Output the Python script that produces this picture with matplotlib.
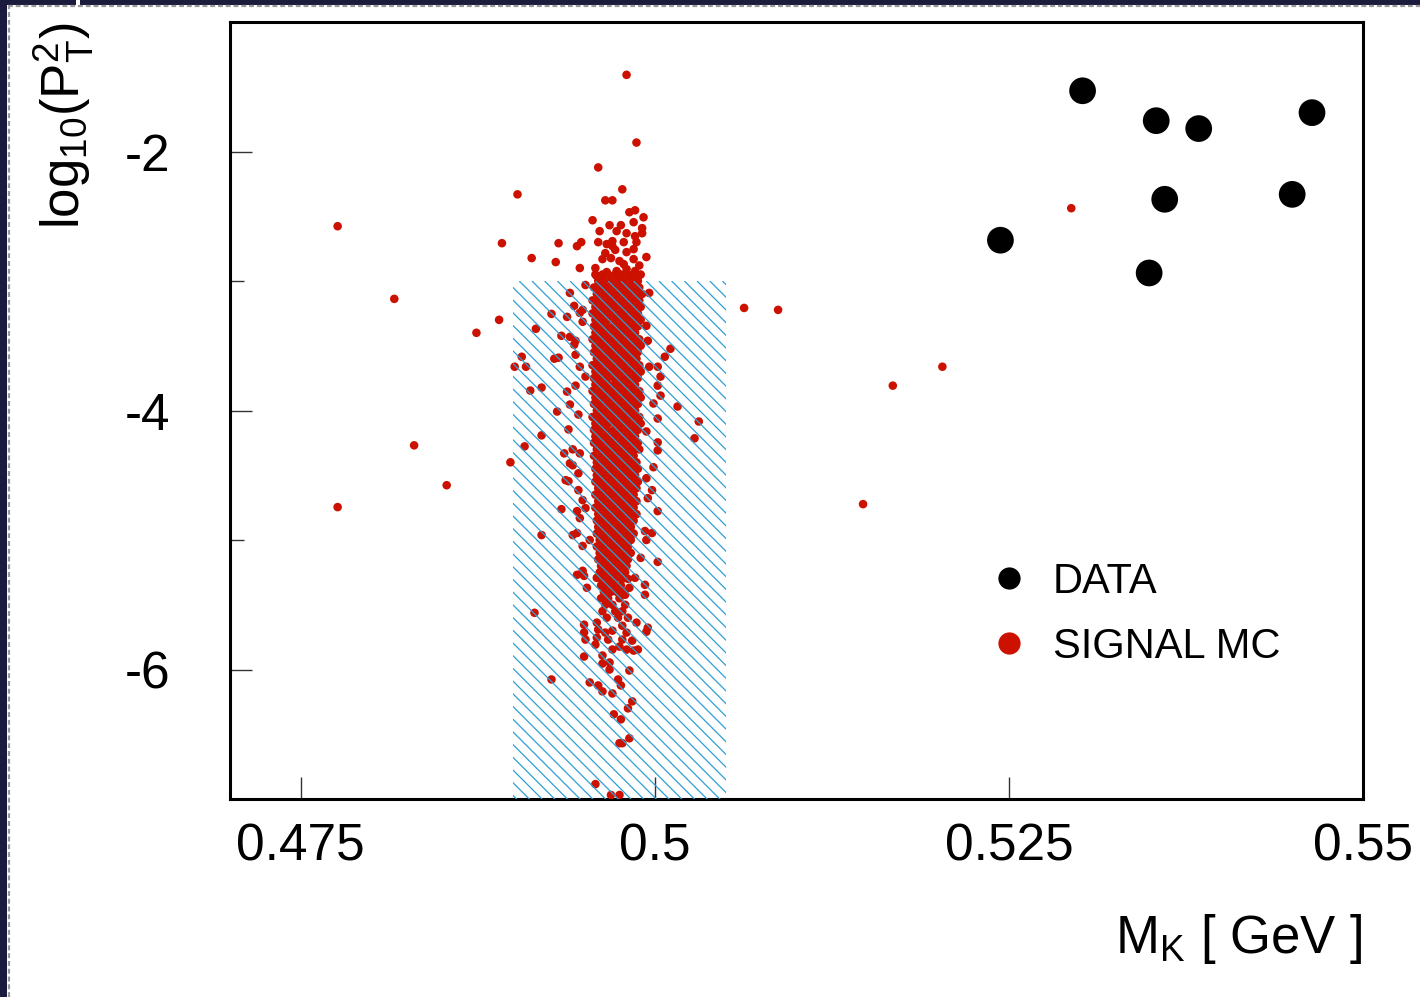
import numpy as np
import matplotlib
matplotlib.use("Agg")
import matplotlib.pyplot as plt
from matplotlib.patches import Rectangle
from matplotlib.collections import LineCollection
from matplotlib.lines import Line2D

plt.rcParams['font.family'] = ['Liberation Sans', 'DejaVu Sans']
plt.rcParams['mathtext.fontset'] = 'custom'
plt.rcParams['mathtext.rm'] = 'Liberation Sans'
plt.rcParams['mathtext.it'] = 'Liberation Sans:italic'
plt.rcParams['mathtext.bf'] = 'Liberation Sans:bold'
plt.rcParams['mathtext.default'] = 'rm'

# ---- data candidates (mass, log10 pT^2) ----
data_x = [0.5302, 0.5354, 0.5384, 0.5464, 0.5360, 0.5450, 0.5244, 0.5349]
data_y = [-1.531, -1.762, -1.823, -1.700, -2.369, -2.331, -2.685, -2.938]

# ---- signal MC: individual events outside the dense core ----
mc_x = [
    0.4980, 0.4987, 0.4960, 0.4776, 0.4903, 0.4892, 0.4816, 0.4890, 0.4874,
    0.5063, 0.5087, 0.5168, 0.5203, 0.4830, 0.4853, 0.4776, 0.5147, 0.5294,
    0.4898, 0.4901, 0.4908, 0.4915, 0.4927, 0.4920,
    0.4977, 0.4965, 0.4970, 0.4982, 0.4986, 0.4985, 0.4992, 0.4956, 0.4968,
    0.4976, 0.4961, 0.4973, 0.4980, 0.4991, 0.4991, 0.4932, 0.4945, 0.4948,
    0.4960, 0.4966, 0.4970, 0.4970, 0.4978, 0.4987, 0.4986, 0.4913, 0.4930,
    0.4947, 0.4994, 0.4963, 0.4969, 0.4975, 0.4980, 0.4985, 0.4985, 0.4958,
    0.4959, 0.4966, 0.4973, 0.4980, 0.4986, 0.4988, 0.4951, 0.4972, 0.4965,
    0.4978, 0.4989,
    0.4940, 0.4943, 0.4949, 0.4947, 0.4927, 0.4938, 0.4949, 0.4916, 0.4934,
    0.4940, 0.4944, 0.4943, 0.4906, 0.4932, 0.4929, 0.4909, 0.4944, 0.4947,
    0.4951, 0.4920, 0.4912, 0.4944, 0.4938, 0.4940, 0.4931, 0.4946, 0.4920,
    0.4939, 0.4936, 0.4942,
    0.4996, 0.4994, 0.4995, 0.5011, 0.5007, 0.4996, 0.5002, 0.5004, 0.5002,
    0.5004, 0.4999, 0.5016, 0.5031, 0.5028, 0.5002, 0.5002, 0.5002, 0.4994,
    0.4947, 0.4940, 0.4942, 0.4946, 0.4937, 0.4939, 0.4946, 0.4949, 0.4934,
    0.4945, 0.4951, 0.4947, 0.4942, 0.4945, 0.4949, 0.4954, 0.4945, 0.4949,
    0.4950, 0.4952, 0.4959, 0.4963,
    0.4999, 0.4994, 0.4998, 0.4995, 0.5002, 0.4993, 0.4998, 0.4994, 0.5002,
    0.4990, 0.4986, 0.4993, 0.4993, 0.4982, 0.4979,
    0.4950, 0.4950, 0.4951, 0.4959, 0.4960, 0.4959, 0.4958, 0.4965, 0.4967,
    0.4970, 0.4977, 0.4980, 0.4977, 0.4984, 0.4987, 0.4995, 0.4994, 0.4970,
    0.4975, 0.4980, 0.4985, 0.4988, 0.4950, 0.4963, 0.4963, 0.4968, 0.4968,
    0.4982, 0.4954, 0.4960, 0.4963, 0.4970, 0.4974, 0.4976, 0.4984, 0.4981,
    0.4971, 0.4976, 0.4982, 0.4975, 0.4977, 0.4958, 0.4969, 0.4975,
]
mc_y = [
    -1.408, -1.931, -2.123, -2.577, -2.331, -2.708, -3.138, -3.300, -3.400,
    -3.208, -3.223, -3.808, -3.662, -4.269, -4.577, -4.746, -4.723, -2.438,
    -4.400, -3.662, -4.277, -5.562, -6.077, -4.962,
    -2.292, -2.377, -2.377, -2.469, -2.454, -2.546, -2.508, -2.531, -2.569,
    -2.569, -2.615, -2.615, -2.631, -2.592, -2.631, -2.708, -2.731, -2.700,
    -2.700, -2.715, -2.692, -2.731, -2.700, -2.700, -2.654, -2.823, -2.854,
    -2.900, -2.815, -2.831, -2.823, -2.846, -2.777, -2.831, -2.754, -2.900,
    -2.962, -2.931, -2.923, -2.908, -2.923, -2.969, -3.031, -2.760, -2.785,
    -2.870, -2.880,
    -3.092, -3.192, -3.223, -3.246, -3.254, -3.277, -3.315, -3.369, -3.423,
    -3.431, -3.462, -3.492, -3.585, -3.592, -3.600, -3.662, -3.569, -3.662,
    -3.738, -3.823, -3.846, -3.808, -3.854, -3.954, -4.008, -4.031, -4.192,
    -4.146, -4.331, -4.300,
    -3.092, -3.346, -3.462, -3.523, -3.585, -3.662, -3.662, -3.738, -3.808,
    -3.885, -3.946, -3.969, -4.085, -4.215, -4.246, -4.308, -4.062, -4.162,
    -4.331, -4.408, -4.423, -4.485, -4.538, -4.546, -4.615, -4.692, -4.762,
    -4.777, -4.754, -4.831, -4.962, -4.946, -5.046, -5.000, -5.269, -5.238,
    -5.277, -5.369, -5.292, -5.315,
    -4.438, -4.523, -4.615, -4.677, -4.777, -4.931, -4.946, -5.000, -5.169,
    -5.138, -5.292, -5.346, -5.423, -5.369, -5.423,
    -5.654, -5.715, -5.769, -5.638, -5.692, -5.754, -5.808, -5.715, -5.769,
    -5.700, -5.662, -5.715, -5.769, -5.777, -5.638, -5.677, -5.708, -5.846,
    -5.823, -5.846, -5.854, -5.846, -5.900, -5.892, -5.954, -5.946, -6.000,
    -6.008, -6.100, -6.123, -6.169, -6.185, -6.077, -6.123, -6.246, -6.300,
    -6.346, -6.385, -6.531, -6.569, -6.569, -6.885, -6.969, -6.969,
]

# ---- signal MC: dense core, one list of masses per log10 pT^2 row ----
mc_core_y = [-2.95, -3.00, -3.05, -3.10, -3.15, -3.20, -3.25, -3.30, -3.35,
             -3.40, -3.45, -3.50, -3.55, -3.60, -3.65, -3.70, -3.75, -3.80,
             -3.85, -3.90, -3.95, -4.00, -4.05, -4.10, -4.15, -4.20, -4.25,
             -4.30, -4.35, -4.40, -4.45, -4.50, -4.55, -4.60, -4.65, -4.70,
             -4.75, -4.80, -4.85, -4.90, -4.95, -5.00, -5.05, -5.10, -5.15,
             -5.20, -5.25, -5.30, -5.35, -5.40, -5.45, -5.50, -5.55, -5.60]
mc_core_x = [
    [0.4958, 0.4963, 0.4967, 0.4972, 0.4976, 0.4981, 0.4985, 0.4990],
    [0.4960, 0.4964, 0.4969, 0.4974, 0.4978, 0.4983, 0.4988],
    [0.4957, 0.4962, 0.4966, 0.4971, 0.4976, 0.4980, 0.4985, 0.4989],
    [0.4959, 0.4964, 0.4968, 0.4973, 0.4978, 0.4982, 0.4987, 0.4991],
    [0.4956, 0.4961, 0.4966, 0.4970, 0.4975, 0.4980, 0.4984, 0.4989],
    [0.4958, 0.4963, 0.4968, 0.4972, 0.4977, 0.4982, 0.4986, 0.4990],
    [0.4956, 0.4961, 0.4965, 0.4970, 0.4975, 0.4979, 0.4984, 0.4988],
    [0.4958, 0.4963, 0.4967, 0.4972, 0.4977, 0.4981, 0.4986, 0.4990],
    [0.4957, 0.4961, 0.4966, 0.4971, 0.4975, 0.4980, 0.4984, 0.4988],
    [0.4958, 0.4963, 0.4968, 0.4973, 0.4977, 0.4982, 0.4986],
    [0.4956, 0.4961, 0.4965, 0.4970, 0.4975, 0.4979, 0.4984, 0.4989],
    [0.4958, 0.4963, 0.4967, 0.4972, 0.4977, 0.4981, 0.4986, 0.4990],
    [0.4957, 0.4961, 0.4966, 0.4970, 0.4975, 0.4980, 0.4984, 0.4988],
    [0.4959, 0.4963, 0.4968, 0.4973, 0.4977, 0.4982, 0.4987],
    [0.4956, 0.4961, 0.4966, 0.4970, 0.4975, 0.4979, 0.4984, 0.4989],
    [0.4958, 0.4963, 0.4968, 0.4972, 0.4977, 0.4981, 0.4986, 0.4990],
    [0.4957, 0.4961, 0.4966, 0.4971, 0.4975, 0.4980, 0.4984, 0.4988],
    [0.4958, 0.4963, 0.4967, 0.4972, 0.4977, 0.4982, 0.4986],
    [0.4956, 0.4961, 0.4965, 0.4970, 0.4974, 0.4979, 0.4984, 0.4989],
    [0.4958, 0.4963, 0.4968, 0.4972, 0.4977, 0.4981, 0.4986, 0.4990],
    [0.4957, 0.4961, 0.4966, 0.4970, 0.4975, 0.4980, 0.4984, 0.4988],
    [0.4959, 0.4963, 0.4968, 0.4973, 0.4977, 0.4982, 0.4986],
    [0.4956, 0.4961, 0.4965, 0.4970, 0.4975, 0.4979, 0.4984, 0.4989],
    [0.4958, 0.4963, 0.4967, 0.4972, 0.4977, 0.4981, 0.4986, 0.4990],
    [0.4957, 0.4961, 0.4966, 0.4971, 0.4975, 0.4980, 0.4984, 0.4988],
    [0.4958, 0.4963, 0.4968, 0.4972, 0.4977, 0.4982, 0.4986],
    [0.4957, 0.4961, 0.4966, 0.4970, 0.4975, 0.4979, 0.4984, 0.4988],
    [0.4959, 0.4963, 0.4968, 0.4973, 0.4977, 0.4982, 0.4986, 0.4989],
    [0.4957, 0.4962, 0.4966, 0.4971, 0.4975, 0.4980, 0.4985],
    [0.4959, 0.4964, 0.4968, 0.4973, 0.4978, 0.4982, 0.4987],
    [0.4958, 0.4962, 0.4967, 0.4971, 0.4976, 0.4980, 0.4985, 0.4988],
    [0.4959, 0.4964, 0.4969, 0.4973, 0.4978, 0.4982, 0.4986],
    [0.4958, 0.4962, 0.4966, 0.4971, 0.4976, 0.4980, 0.4985, 0.4988],
    [0.4960, 0.4964, 0.4969, 0.4973, 0.4978, 0.4982, 0.4987],
    [0.4958, 0.4962, 0.4967, 0.4971, 0.4976, 0.4980, 0.4985],
    [0.4960, 0.4964, 0.4969, 0.4974, 0.4978, 0.4983, 0.4987],
    [0.4958, 0.4963, 0.4967, 0.4972, 0.4976, 0.4981, 0.4985],
    [0.4960, 0.4965, 0.4969, 0.4974, 0.4978, 0.4983, 0.4987],
    [0.4959, 0.4963, 0.4968, 0.4972, 0.4977, 0.4981, 0.4985],
    [0.4960, 0.4965, 0.4969, 0.4974, 0.4978, 0.4983],
    [0.4959, 0.4963, 0.4968, 0.4972, 0.4976, 0.4981, 0.4985],
    [0.4961, 0.4965, 0.4970, 0.4974, 0.4979, 0.4983],
    [0.4959, 0.4964, 0.4968, 0.4973, 0.4977, 0.4981],
    [0.4961, 0.4966, 0.4970, 0.4975, 0.4979, 0.4983],
    [0.4960, 0.4964, 0.4969, 0.4973, 0.4978, 0.4981],
    [0.4962, 0.4967, 0.4971, 0.4976, 0.4980],
    [0.4961, 0.4965, 0.4970, 0.4974, 0.4979],
    [0.4963, 0.4968, 0.4972, 0.4977, 0.4981],
    [0.4962, 0.4966, 0.4971, 0.4976],
    [0.4964, 0.4969, 0.4973, 0.4978],
    [0.4962, 0.4967, 0.4975],
    [0.4965, 0.4970, 0.4979],
    [0.4963, 0.4972, 0.4977],
    [0.4966, 0.4974, 0.4981],
]

# signal window (mass band and pT^2 cut)
window_mass = (0.490, 0.505)
window_logpt2_max = -3.0

x_ticks = [0.475, 0.5, 0.525, 0.55]
x_ticklabels = ['0.475', '0.5', '0.525', '0.55']
y_ticks = [-6, -4, -2]
y_ticklabels = ['-6', '-4', '-2']
y_minor = [-7, -5, -3, -1]

RED = '#cc1100'
HATCH = '#2e9fd6'

W, H, DPI = 14.2, 9.97, 100
fig = plt.figure(figsize=(W, H), dpi=DPI, facecolor='white')
ax = fig.add_axes([230 / 1420, 1 - 799 / 997, 1133 / 1420, 777 / 997])
ax.set_xlim(0.47, 0.55)
ax.set_ylim(-7, -1)

# signal MC events
core_x = [x for row in mc_core_x for x in row]
core_y = [y for y, row in zip(mc_core_y, mc_core_x) for _ in row]
all_mc_x = core_x + mc_x
all_mc_y = core_y + mc_y
ax.scatter(all_mc_x, all_mc_y, s=38, color=RED, edgecolors='none', zorder=3)

# data events
ax.scatter(data_x, data_y, s=370, color='black', edgecolors='none', zorder=4)

# hatched signal window, drawn as 45-degree lines on screen
x0, x1 = window_mass
y0, y1 = -7.0, window_logpt2_max
ax_w_px = 1133.0
ax_h_px = 777.0
sx = ax_w_px / 0.08
sy = ax_h_px / 6.0
spacing_px = 12.7
box_w_px = (x1 - x0) * sx
box_h_px = (y1 - y0) * sy
segs = []
start = 6.0 - spacing_px * np.ceil((box_h_px + 20) / spacing_px)
for off in np.arange(start, box_w_px + spacing_px, spacing_px):
    xa = x0 + off / sx
    L = box_h_px + 40
    segs.append([(xa, y1), (xa + L / sx, y1 - L / sy)])
lc = LineCollection(segs, colors=HATCH, linewidths=0.9, zorder=5)
ax.add_collection(lc)
clip = Rectangle((x0, y0), x1 - x0, y1 - y0, transform=ax.transData,
                 facecolor='none', edgecolor='none')
lc.set_clip_path(clip.get_path(), clip.get_transform())

# axes styling
for sp in ax.spines.values():
    sp.set_linewidth(2.2)
    sp.set_color('black')
ax.set_xticks(x_ticks)
ax.set_xticklabels(x_ticklabels)
ax.set_yticks(y_ticks)
ax.set_yticklabels(y_ticklabels)
ax.set_yticks(y_minor, minor=True)
ax.tick_params(axis='x', which='major', direction='in', length=16, width=1.0,
               color='#333333', labelsize=37, pad=17, top=False)
ax.tick_params(axis='y', which='major', direction='in', length=16, width=1.0,
               color='#333333', labelsize=37, pad=43, right=False)
ax.tick_params(axis='y', which='minor', direction='in', length=10, width=1.0,
               color='#333333', right=False)
ax.tick_params(axis='x', which='minor', bottom=False, top=False)

ax.set_ylabel(r'log$_{10}$(P$_{T}^{2}$)', fontsize=38, loc='top')
ax.yaxis.set_label_coords(-0.118, 1.0)
ax.set_xlabel(r'M$_{K}$ [ GeV ]', fontsize=38, loc='right')
ax.xaxis.set_label_coords(1.0, -0.145)

handles = [
    Line2D([], [], linestyle='none', marker='o', markersize=16,
           markerfacecolor='black', markeredgecolor='none', label='DATA'),
    Line2D([], [], linestyle='none', marker='o', markersize=16,
           markerfacecolor=RED, markeredgecolor='none', label='SIGNAL MC'),
]
ax.legend(handles=handles, loc='center left', bbox_to_anchor=(0.669, 0.238),
          frameon=False, fontsize=30, handlelength=1.0, handletextpad=0.55,
          labelspacing=0.6, borderpad=0, borderaxespad=0)

# window border decoration
navy = '#1b1b3d'
fig.add_artist(Rectangle((0, 1 - 5 / 997), 1, 5 / 997, transform=fig.transFigure,
                         facecolor=navy, edgecolor='none'))
fig.add_artist(Rectangle((0, 0), 7 / 1420, 1, transform=fig.transFigure,
                         facecolor=navy, edgecolor='none'))
fig.add_artist(Line2D([7.5 / 1420, 1], [1 - 6 / 997, 1 - 6 / 997],
                      transform=fig.transFigure, color='#9a9a9a', lw=1.6,
                      dashes=(2.2, 1.3)))
fig.add_artist(Line2D([8.5 / 1420, 8.5 / 1420], [0, 1 - 6 / 997],
                      transform=fig.transFigure, color='#9a9a9a', lw=1.6,
                      dashes=(2.2, 1.3)))
fig.add_artist(Rectangle((76 / 1420, 1 - 7 / 997), 4 / 1420, 7 / 997,
                         transform=fig.transFigure, facecolor='white',
                         edgecolor='none'))

fig.savefig('out.png', dpi=DPI, facecolor='white')
